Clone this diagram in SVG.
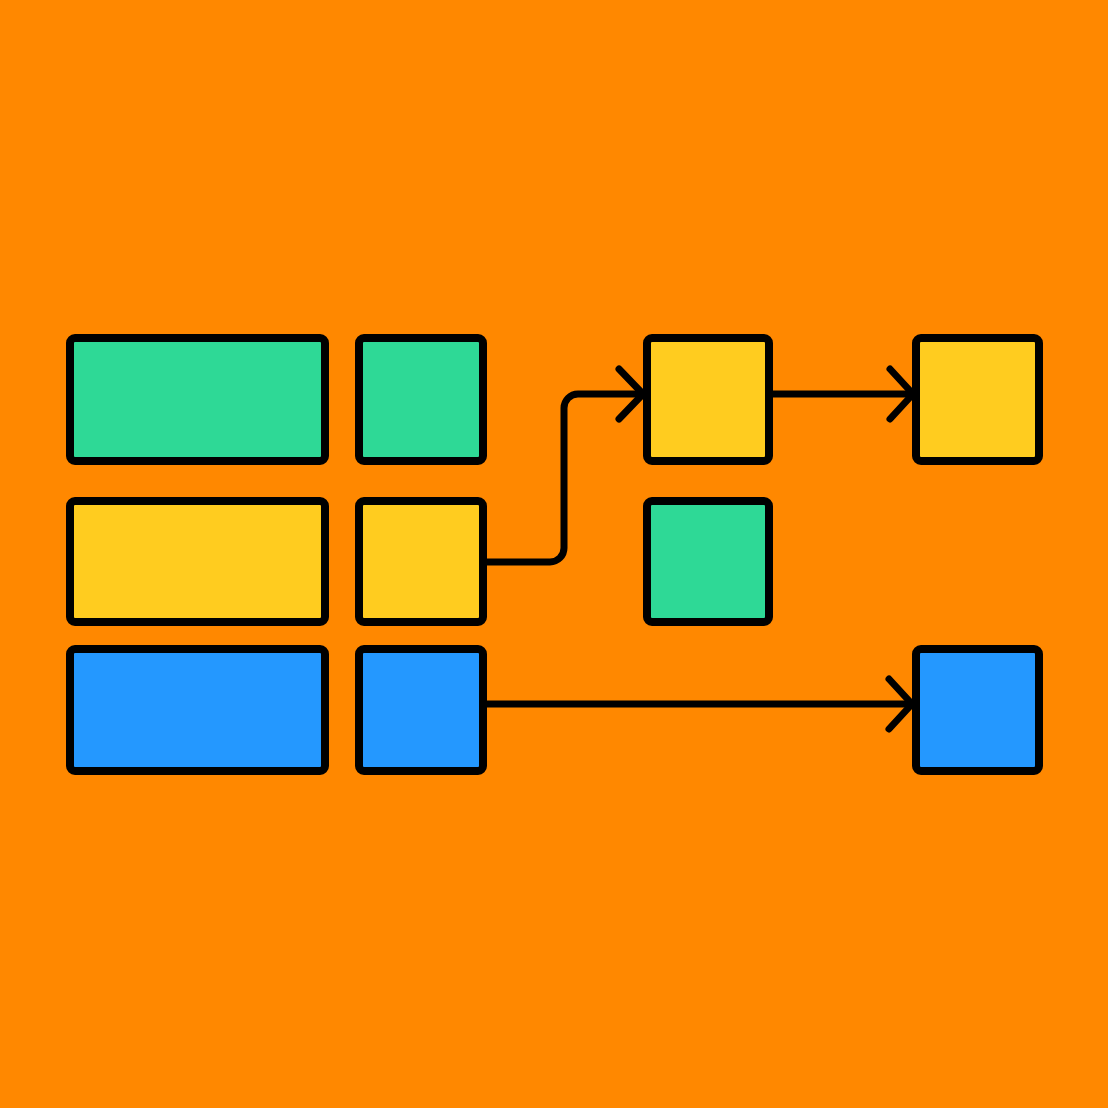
<svg xmlns="http://www.w3.org/2000/svg" width="1108" height="1108" viewBox="0 0 1108 1108">
<style>
.n{stroke:#000;stroke-width:8;stroke-linejoin:round}
.g{fill:#2ED996}
.y{fill:#FFCC1F}
.b{fill:#2498FF}
.c{fill:none;stroke:#000;stroke-width:7;stroke-linecap:round;stroke-linejoin:round}
</style>
<rect width="1108" height="1108" fill="#FF8800"/>
<g id="connectors">
<path class="c" d="M483 562 H550 A14 14 0 0 0 564 548 V408 A14 14 0 0 1 578 394 H642"/>
<path class="c" d="M619 369 L643 394 L619 419"/>
<path class="c" d="M773 394 H912"/>
<path class="c" d="M890 369 L913 394 L890 419"/>
<path class="c" d="M487 704 H911"/>
<path class="c" d="M889 679 L912 704 L889 729"/>
</g>
<g id="n1"><rect class="n g" x="70" y="338" width="255" height="123" rx="5"/></g>
<g id="n2"><rect class="n g" x="359" y="338" width="124" height="123" rx="5"/></g>
<g id="n3"><rect class="n y" x="70" y="501" width="255" height="121" rx="5"/></g>
<g id="n4"><rect class="n y" x="359" y="501" width="124" height="121" rx="5"/></g>
<g id="n5"><rect class="n b" x="70" y="649" width="255" height="122" rx="5"/></g>
<g id="n6"><rect class="n b" x="359" y="649" width="124" height="122" rx="5"/></g>
<g id="n7"><rect class="n y" x="647" y="338" width="122" height="123" rx="5"/></g>
<g id="n8"><rect class="n g" x="647" y="501" width="122" height="121" rx="5"/></g>
<g id="n9"><rect class="n y" x="916" y="338" width="123" height="123" rx="5"/></g>
<g id="n10"><rect class="n b" x="916" y="649" width="123" height="122" rx="5"/></g>
</svg>
